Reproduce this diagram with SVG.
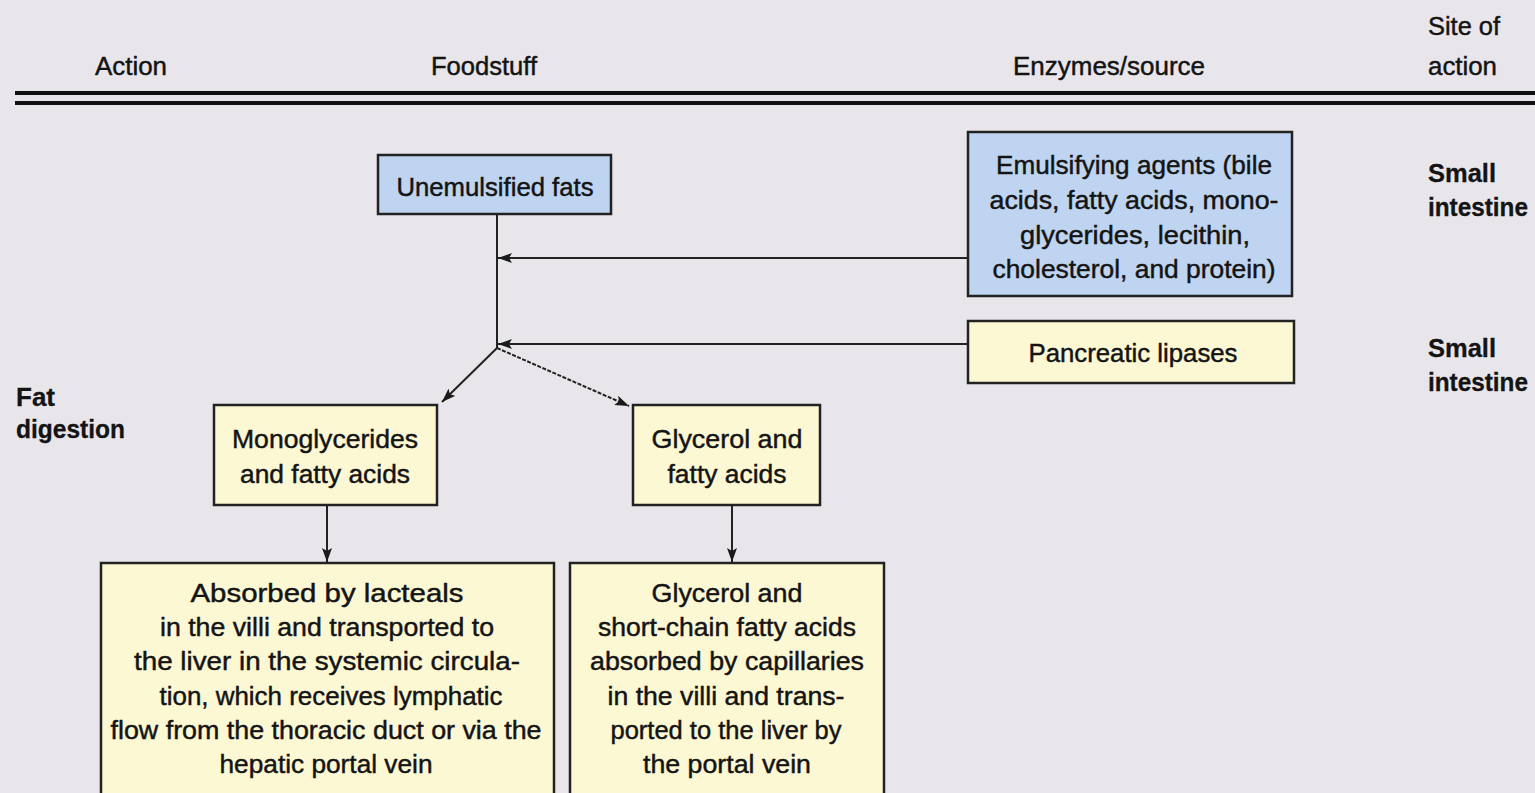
<svg xmlns="http://www.w3.org/2000/svg" width="1535" height="793" viewBox="0 0 1535 793">
<defs>
<marker id="ah" viewBox="0 0 14 10" refX="14" refY="5" markerWidth="14" markerHeight="10" markerUnits="userSpaceOnUse" orient="auto">
<path d="M0,0 L14,5 L0,10 L3,5 Z" fill="#1a1a1a"/>
</marker>
<style>
text{font-family:"Liberation Sans",Arial,sans-serif;font-size:26px;fill:#141414;stroke:#141414;stroke-width:0.45;text-anchor:middle}
.l{text-anchor:start}
.b{font-weight:bold;stroke-width:0.3}
.blue{fill:#bed4f0;stroke:#222;stroke-width:2.5}
.yel{fill:#fdf8d4;stroke:#222;stroke-width:2.5}
.c{stroke:#222;stroke-width:2;fill:none}
</style>
</defs>
<rect x="0" y="0" width="1535" height="793" fill="#e8e6ea"/>
<g id="header">
<text x="131" y="75" textLength="72" lengthAdjust="spacingAndGlyphs">Action</text>
<text x="484" y="75" textLength="106" lengthAdjust="spacingAndGlyphs">Foodstuff</text>
<text x="1109" y="75" textLength="192" lengthAdjust="spacingAndGlyphs">Enzymes/source</text>
<text class="l" x="1428" y="35" textLength="72" lengthAdjust="spacingAndGlyphs">Site of</text>
<text class="l" x="1428" y="75" textLength="69" lengthAdjust="spacingAndGlyphs">action</text>
<rect x="15" y="91" width="1520" height="4" fill="#111"/>
<rect x="15" y="101" width="1520" height="4" fill="#111"/>
</g>
<g id="labels">
<text class="l b" x="16" y="406" textLength="39" lengthAdjust="spacingAndGlyphs">Fat</text>
<text class="l b" x="16" y="438" textLength="109" lengthAdjust="spacingAndGlyphs">digestion</text>
<text class="l b" x="1428" y="182" textLength="68" lengthAdjust="spacingAndGlyphs">Small</text>
<text class="l b" x="1428" y="216" textLength="100" lengthAdjust="spacingAndGlyphs">intestine</text>
<text class="l b" x="1428" y="357" textLength="68" lengthAdjust="spacingAndGlyphs">Small</text>
<text class="l b" x="1428" y="391" textLength="100" lengthAdjust="spacingAndGlyphs">intestine</text>
</g>
<g id="connectors">
<line class="c" x1="497" y1="214" x2="497" y2="348"/>
<line class="c" x1="968" y1="258" x2="498" y2="258" marker-end="url(#ah)"/>
<line class="c" x1="968" y1="344" x2="498" y2="344" marker-end="url(#ah)"/>
<line class="c" x1="497" y1="348" x2="442" y2="402" marker-end="url(#ah)"/>
<line class="c" x1="497" y1="348" x2="629" y2="406" stroke-dasharray="4 1.5" marker-end="url(#ah)"/>
<line class="c" x1="327" y1="505" x2="327" y2="562" marker-end="url(#ah)"/>
<line class="c" x1="732" y1="505" x2="732" y2="562" marker-end="url(#ah)"/>
</g>
<g id="n-unemulsified">
<rect class="blue" x="378" y="155" width="233" height="59"/>
<text x="495" y="196" textLength="197" lengthAdjust="spacingAndGlyphs">Unemulsified fats</text>
</g>
<g id="n-emulsifying">
<rect class="blue" x="968" y="132" width="324" height="164"/>
<text x="1134" y="174" textLength="276" lengthAdjust="spacingAndGlyphs">Emulsifying agents (bile</text>
<text x="1134" y="209" textLength="289" lengthAdjust="spacingAndGlyphs">acids, fatty acids, mono-</text>
<text x="1135" y="244" textLength="230" lengthAdjust="spacingAndGlyphs">glycerides, lecithin,</text>
<text x="1134" y="278" textLength="283" lengthAdjust="spacingAndGlyphs">cholesterol, and protein)</text>
</g>
<g id="n-pancreatic">
<rect class="yel" x="968" y="321" width="326" height="62"/>
<text x="1133" y="362" textLength="209" lengthAdjust="spacingAndGlyphs">Pancreatic lipases</text>
</g>
<g id="n-mono">
<rect class="yel" x="214" y="405" width="223" height="100"/>
<text x="325" y="448" textLength="186" lengthAdjust="spacingAndGlyphs">Monoglycerides</text>
<text x="325" y="483" textLength="170" lengthAdjust="spacingAndGlyphs">and fatty acids</text>
</g>
<g id="n-glycerol">
<rect class="yel" x="633" y="405" width="187" height="100"/>
<text x="727" y="448" textLength="151" lengthAdjust="spacingAndGlyphs">Glycerol and</text>
<text x="727" y="483" textLength="119" lengthAdjust="spacingAndGlyphs">fatty acids</text>
</g>
<g id="n-lacteals">
<rect class="yel" x="101" y="563" width="453" height="240"/>
<text x="327" y="602" textLength="273" lengthAdjust="spacingAndGlyphs">Absorbed by lacteals</text>
<text x="327" y="636" textLength="334" lengthAdjust="spacingAndGlyphs">in the villi and transported to</text>
<text x="327" y="670" textLength="386" lengthAdjust="spacingAndGlyphs">the liver in the systemic circula-</text>
<text x="331" y="705" textLength="343" lengthAdjust="spacingAndGlyphs">tion, which receives lymphatic</text>
<text x="326" y="739" textLength="431" lengthAdjust="spacingAndGlyphs">flow from the thoracic duct or via the</text>
<text x="326" y="773" textLength="213" lengthAdjust="spacingAndGlyphs">hepatic portal vein</text>
</g>
<g id="n-capillaries">
<rect class="yel" x="570" y="563" width="314" height="240"/>
<text x="727" y="602" textLength="151" lengthAdjust="spacingAndGlyphs">Glycerol and</text>
<text x="727" y="636" textLength="258" lengthAdjust="spacingAndGlyphs">short-chain fatty acids</text>
<text x="727" y="670" textLength="274" lengthAdjust="spacingAndGlyphs">absorbed by capillaries</text>
<text x="726" y="705" textLength="237" lengthAdjust="spacingAndGlyphs">in the villi and trans-</text>
<text x="726" y="739" textLength="231" lengthAdjust="spacingAndGlyphs">ported to the liver by</text>
<text x="727" y="773" textLength="168" lengthAdjust="spacingAndGlyphs">the portal vein</text>
</g>
</svg>
